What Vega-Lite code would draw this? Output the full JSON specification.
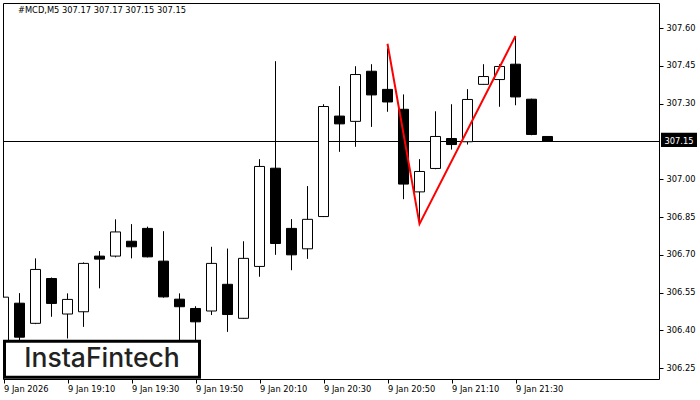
{
  "$schema": "https://vega.github.io/schema/vega-lite/v6.json",
  "width": 656,
  "height": 376,
  "autosize": {"type": "none"},
  "padding": {"left": 3, "top": 3, "right": 41, "bottom": 21},
  "background": "white",
  "config": {
    "view": {"stroke": "black", "strokeWidth": 1},
    "scale": {"continuousPadding": 0},
    "axis": {"labelFont": "DejaVu Sans", "labelFontSize": 8.3, "labelColor": "black", "tickColor": "black", "tickSize": 4, "domain": false, "grid": false, "title": null, "labelFlush": false, "labelOverlap": false, "labelBound": false}
  },
  "datasets": {
    "candles": [
      {"t": "2026-01-09T18:50:00Z", "open": 306.33, "high": 306.806, "low": 306.30, "close": 306.532},
      {"t": "2026-01-09T18:55:00Z", "open": 306.508, "high": 306.548, "low": 306.345, "close": 306.373},
      {"t": "2026-01-09T19:00:00Z", "open": 306.428, "high": 306.686, "low": 306.425, "close": 306.642},
      {"t": "2026-01-09T19:05:00Z", "open": 306.606, "high": 306.61, "low": 306.454, "close": 306.507},
      {"t": "2026-01-09T19:10:00Z", "open": 306.465, "high": 306.547, "low": 306.368, "close": 306.523},
      {"t": "2026-01-09T19:15:00Z", "open": 306.474, "high": 306.67, "low": 306.414, "close": 306.666},
      {"t": "2026-01-09T19:20:00Z", "open": 306.695, "high": 306.715, "low": 306.567, "close": 306.683},
      {"t": "2026-01-09T19:25:00Z", "open": 306.695, "high": 306.841, "low": 306.69, "close": 306.791},
      {"t": "2026-01-09T19:30:00Z", "open": 306.754, "high": 306.822, "low": 306.686, "close": 306.732},
      {"t": "2026-01-09T19:35:00Z", "open": 306.805, "high": 306.812, "low": 306.69, "close": 306.692},
      {"t": "2026-01-09T19:40:00Z", "open": 306.675, "high": 306.794, "low": 306.53, "close": 306.533},
      {"t": "2026-01-09T19:45:00Z", "open": 306.524, "high": 306.547, "low": 306.32, "close": 306.494},
      {"t": "2026-01-09T19:50:00Z", "open": 306.487, "high": 306.496, "low": 306.34, "close": 306.434},
      {"t": "2026-01-09T19:55:00Z", "open": 306.477, "high": 306.732, "low": 306.461, "close": 306.666},
      {"t": "2026-01-09T20:00:00Z", "open": 306.583, "high": 306.725, "low": 306.394, "close": 306.463},
      {"t": "2026-01-09T20:05:00Z", "open": 306.448, "high": 306.754, "low": 306.446, "close": 306.686},
      {"t": "2026-01-09T20:10:00Z", "open": 306.654, "high": 307.08, "low": 306.613, "close": 307.051},
      {"t": "2026-01-09T20:15:00Z", "open": 307.044, "high": 307.469, "low": 306.70, "close": 306.745},
      {"t": "2026-01-09T20:20:00Z", "open": 306.805, "high": 306.842, "low": 306.639, "close": 306.70},
      {"t": "2026-01-09T20:25:00Z", "open": 306.724, "high": 306.973, "low": 306.684, "close": 306.841},
      {"t": "2026-01-09T20:30:00Z", "open": 306.852, "high": 307.298, "low": 306.85, "close": 307.289},
      {"t": "2026-01-09T20:35:00Z", "open": 307.251, "high": 307.37, "low": 307.109, "close": 307.22},
      {"t": "2026-01-09T20:40:00Z", "open": 307.23, "high": 307.449, "low": 307.129, "close": 307.416},
      {"t": "2026-01-09T20:45:00Z", "open": 307.429, "high": 307.457, "low": 307.208, "close": 307.335},
      {"t": "2026-01-09T20:50:00Z", "open": 307.357, "high": 307.52, "low": 307.268, "close": 307.307},
      {"t": "2026-01-09T20:55:00Z", "open": 307.278, "high": 307.337, "low": 306.921, "close": 306.981},
      {"t": "2026-01-09T21:00:00Z", "open": 306.95, "high": 307.08, "low": 306.825, "close": 307.031},
      {"t": "2026-01-09T21:05:00Z", "open": 307.043, "high": 307.27, "low": 307.04, "close": 307.17},
      {"t": "2026-01-09T21:10:00Z", "open": 307.162, "high": 307.298, "low": 307.118, "close": 307.138},
      {"t": "2026-01-09T21:15:00Z", "open": 307.149, "high": 307.358, "low": 307.138, "close": 307.317},
      {"t": "2026-01-09T21:20:00Z", "open": 307.377, "high": 307.457, "low": 307.375, "close": 307.408},
      {"t": "2026-01-09T21:25:00Z", "open": 307.396, "high": 307.457, "low": 307.288, "close": 307.448},
      {"t": "2026-01-09T21:30:00Z", "open": 307.457, "high": 307.566, "low": 307.294, "close": 307.327},
      {"t": "2026-01-09T21:35:00Z", "open": 307.318, "high": 307.32, "low": 307.175, "close": 307.178},
      {"t": "2026-01-09T21:40:00Z", "open": 307.17, "high": 307.17, "low": 307.15, "close": 307.15}
    ],
    "pattern": [
      {"t": "2026-01-09T20:50:00Z", "price": 307.538},
      {"t": "2026-01-09T21:00:00Z", "price": 306.823},
      {"t": "2026-01-09T21:30:00Z", "price": 307.569}
    ]
  },
  "layer": [
    {
      "data": {"name": "candles"},
      "mark": {"type": "rule", "color": "black", "strokeWidth": 1},
      "encoding": {
        "y": {"datum": 307.15, "type": "quantitative", "scale": {"domain": [306.207, 307.7], "nice": false, "zero": false, "padding": 0},
          "axis": {"orient": "right", "values": [306.25, 306.4, 306.55, 306.7, 306.85, 307.0, 307.3, 307.45, 307.6], "format": ".2f", "labelPadding": 3, "labelAlign": "left"}}
      }
    },
    {
      "data": {"name": "candles"},
      "mark": {"type": "rule", "color": "black", "strokeWidth": 1, "clip": true},
      "encoding": {
        "x": {"field": "t", "type": "temporal",
          "scale": {"type": "utc", "nice": false, "padding": 0, "domain": [
            {"year": 2026, "month": 1, "date": 9, "hours": 18, "minutes": 49, "seconds": 50, "milliseconds": 600, "utc": true},
            {"year": 2026, "month": 1, "date": 9, "hours": 22, "minutes": 14, "seconds": 50, "milliseconds": 600, "utc": true}]},
          "axis": {"orient": "bottom", "labelAlign": "left", "labelBaseline": "top", "labelPadding": 1,
            "values": [
              {"year": 2026, "month": 1, "date": 9, "hours": 18, "minutes": 50, "utc": true},
              {"year": 2026, "month": 1, "date": 9, "hours": 19, "minutes": 10, "utc": true},
              {"year": 2026, "month": 1, "date": 9, "hours": 19, "minutes": 30, "utc": true},
              {"year": 2026, "month": 1, "date": 9, "hours": 19, "minutes": 50, "utc": true},
              {"year": 2026, "month": 1, "date": 9, "hours": 20, "minutes": 10, "utc": true},
              {"year": 2026, "month": 1, "date": 9, "hours": 20, "minutes": 30, "utc": true},
              {"year": 2026, "month": 1, "date": 9, "hours": 20, "minutes": 50, "utc": true},
              {"year": 2026, "month": 1, "date": 9, "hours": 21, "minutes": 10, "utc": true},
              {"year": 2026, "month": 1, "date": 9, "hours": 21, "minutes": 30, "utc": true}],
            "labelExpr": "utcFormat(datum.value, '%H:%M') == '18:50' ? '9 Jan 2026' : utcFormat(datum.value, '%-d %b %H:%M')"}},
        "y": {"field": "low", "type": "quantitative"},
        "y2": {"field": "high"}
      }
    },
    {
      "data": {"name": "candles"},
      "mark": {"type": "bar", "size": 10, "stroke": "black", "strokeWidth": 1, "clip": true},
      "encoding": {
        "x": {"field": "t", "type": "temporal"},
        "y": {"field": "open", "type": "quantitative"},
        "y2": {"field": "close"},
        "fill": {"condition": {"test": "datum.close > datum.open", "value": "white"}, "value": "black"}
      }
    },
    {
      "data": {"name": "pattern"},
      "mark": {"type": "line", "color": "#ff0000", "strokeWidth": 2},
      "encoding": {
        "x": {"field": "t", "type": "temporal"},
        "y": {"field": "price", "type": "quantitative"}
      }
    },
    {
      "data": {"values": [{}]},
      "mark": {"type": "rect", "fill": "white", "stroke": "black", "strokeWidth": 3},
      "encoding": {
        "x": {"datum": {"year": 2026, "month": 1, "date": 9, "hours": 18, "minutes": 50, "seconds": 18, "milliseconds": 700, "utc": true}, "type": "temporal"},
        "x2": {"datum": {"year": 2026, "month": 1, "date": 9, "hours": 19, "minutes": 51, "seconds": 15, "utc": true}},
        "y": {"datum": 306.3564, "type": "quantitative"},
        "y2": {"datum": 306.2135}
      }
    },
    {
      "data": {"values": [{}]},
      "mark": {"type": "text", "text": "InstaFintech", "font": "Inter", "fontWeight": 500, "fontSize": 26.5, "color": "#222222", "align": "center", "baseline": "middle"},
      "encoding": {
        "x": {"datum": {"year": 2026, "month": 1, "date": 9, "hours": 19, "minutes": 20, "seconds": 47, "utc": true}, "type": "temporal"},
        "y": {"datum": 306.2869, "type": "quantitative"}
      }
    },
    {
      "data": {"values": [{}]},
      "mark": {"type": "rect", "fill": "black"},
      "encoding": {
        "x": {"datum": {"year": 2026, "month": 1, "date": 9, "hours": 22, "minutes": 15, "seconds": 28, "utc": true}, "type": "temporal"},
        "x2": {"datum": {"year": 2026, "month": 1, "date": 9, "hours": 22, "minutes": 26, "seconds": 43, "utc": true}},
        "y": {"datum": 307.1843, "type": "quantitative"},
        "y2": {"datum": 307.1287}
      }
    },
    {
      "data": {"values": [{}]},
      "mark": {"type": "text", "text": "307.15", "font": "DejaVu Sans", "fontSize": 8.3, "color": "white", "align": "center", "baseline": "middle"},
      "encoding": {
        "x": {"datum": {"year": 2026, "month": 1, "date": 9, "hours": 22, "minutes": 21, "seconds": 6, "utc": true}, "type": "temporal"},
        "y": {"datum": 307.15, "type": "quantitative"}
      }
    },
    {
      "data": {"values": [{}]},
      "mark": {"type": "text", "text": "#MCD,M5  307.17 307.17 307.15 307.15", "font": "DejaVu Sans", "fontSize": 8.3, "color": "black", "align": "left", "baseline": "middle"},
      "encoding": {
        "x": {"datum": {"year": 2026, "month": 1, "date": 9, "hours": 18, "minutes": 54, "seconds": 32, "utc": true}, "type": "temporal"},
        "y": {"datum": 307.6687, "type": "quantitative"}
      }
    }
  ]
}
